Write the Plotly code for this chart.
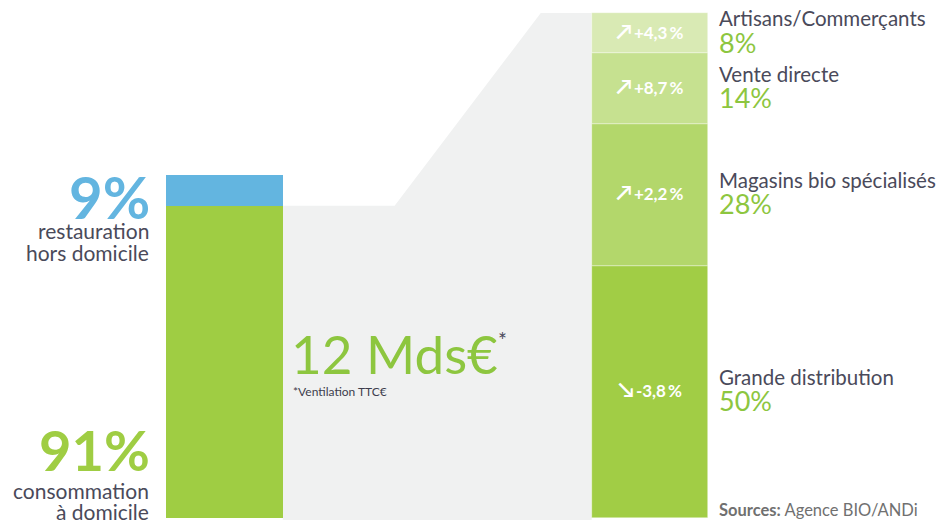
import numpy as np
import plotly.graph_objects as go

# ---------------- data ----------------
left_labels = ["consommation à domicile", "restauration hors domicile"]
left_values = [91, 9]
left_pct_text = ["91%", "9%"]

right_channels = ["Grande distribution", "Magasins bio spécialisés", "Vente directe", "Artisans/Commerçants"]
right_values = [50, 28, 14, 8]
right_pct_text = ["50%", "28%", "14%", "8%"]
right_growth = ["↘-3,8%", "↗+2,2%", "↗+8,7%", "↗+4,3%"]

total_label = "12 Mds€"
footnote = "*Ventilation TTC€"
source_label = "<b>Sources:</b> Agence BIO/ANDi"

# ---------------- style ----------------
# the page adds an 8px body margin, so the figure is 936x512 inside the 944x520 window
W, H = 936, 512
OFF = 8
FONT = "Lato"
DARK = "#4a4a5a"
GREEN_TXT = "#8dc63f"
left_colors = ["#9fcd43", "#63b5e0"]
right_colors = ["#a1cd45", "#b3d76b", "#c6e190", "#d9eab4"]
GREY = "#f0f1f1"

BAR_W = 0.274
x_range = [-0.5088, 1.6909]
y_range = [-0.396, 100.99]
y2_range = [-0.583, 148.69]


def py(screen_y):
    """paper y for a window pixel row"""
    return (H + OFF - screen_y) / H


def px(screen_x):
    return (screen_x - OFF) / W


fig = go.Figure()

# left bar (its own scale, y2)
left_base = np.concatenate([[0], np.cumsum(left_values)[:-1]])
for v, b, c, name in zip(left_values, left_base, left_colors, left_labels):
    fig.add_trace(go.Bar(x=[0], y=[v], base=[b], width=BAR_W, marker=dict(color=c, line=dict(width=0)),
                         yaxis="y2", name=name, showlegend=False, hoverinfo="name+y"))

# right bar
right_base = np.concatenate([[0], np.cumsum(right_values)[:-1]])
for v, b, c, name in zip(right_values, right_base, right_colors, right_channels):
    fig.add_trace(go.Bar(x=[1], y=[v], base=[b], width=BAR_W,
                         marker=dict(color=c, line=dict(width=0.6, color="rgba(255,255,255,0.6)")),
                         yaxis="y", name=name, showlegend=False, hoverinfo="name+y"))

# grey connector shape, derived from the bars' geometry
ymin, ymax = y_range
y2min, y2max = y2_range
split = left_values[0]
yh = ymin + (split - y2min) / (y2max - y2min) * (ymax - ymin)
gl, gr = BAR_W / 2, 1 - BAR_W / 2
x1 = gl + 0.362 * (gr - gl)
x2 = gl + 0.835 * (gr - gl)
ytop = float(np.sum(right_values))
path = (f"M {gl},{ymin} L {gl},{yh} L {x1},{yh} L {x2},{ytop} "
        f"L {gr},{ytop} L {gr},{ymin} Z")
fig.add_shape(type="path", path=path, xref="x", yref="y", fillcolor=GREY,
              line=dict(width=0), layer="below")

ann = []
# left labels
left_top = float(np.sum(left_values))
ann.append(dict(x=-BAR_W / 2, y=left_top, xref="x", yref="y2", xanchor="right", yanchor="middle",
                xshift=-14, yshift=-21, text=f"<b>{left_pct_text[1]}</b>", showarrow=False,
                font=dict(family=FONT, size=58, color=left_colors[1])))
ann.append(dict(x=-BAR_W / 2, y=left_top, xref="x", yref="y2", xanchor="right", yanchor="middle",
                xshift=-15, yshift=-55, text="restauration", showarrow=False,
                font=dict(family=FONT, size=21, color=DARK)))
ann.append(dict(x=-BAR_W / 2, y=left_top, xref="x", yref="y2", xanchor="right", yanchor="middle",
                xshift=-15, yshift=-77, text="hors domicile", showarrow=False,
                font=dict(family=FONT, size=21, color=DARK)))
ann.append(dict(x=-BAR_W / 2, y=0, xref="x", yref="y2", xanchor="right", yanchor="middle",
                xshift=-14, yshift=69, text=f"<b>{left_pct_text[0]}</b>", showarrow=False,
                font=dict(family=FONT, size=56, color=left_colors[0])))
ann.append(dict(x=-BAR_W / 2, y=0, xref="x", yref="y2", xanchor="right", yanchor="middle",
                xshift=-15, yshift=28, text="consommation", showarrow=False,
                font=dict(family=FONT, size=21, color=DARK)))
ann.append(dict(x=-BAR_W / 2, y=0, xref="x", yref="y2", xanchor="right", yanchor="middle",
                xshift=-15, yshift=7, text="à domicile", showarrow=False,
                font=dict(family=FONT, size=21, color=DARK)))

# total in the grey area
ann.append(dict(x=gl, y=py(353), xref="x", yref="paper", xanchor="left", yanchor="middle",
                xshift=6, text=total_label,
                showarrow=False, font=dict(family=FONT, size=53, color=GREEN_TXT)))
ann.append(dict(x=px(502), y=py(339), xref="paper", yref="paper", xanchor="center", yanchor="middle",
                text="*", showarrow=False, font=dict(family=FONT, size=21, color=DARK)))
ann.append(dict(x=gl, y=py(391), xref="x", yref="paper", xanchor="left", yanchor="middle",
                xshift=8, text=footnote, showarrow=False,
                font=dict(family=FONT, size=12, color="#3d3d4d")))

# right bar labels
mids = right_base + np.array(right_values) / 2
for m, name, pct, g in zip(mids, right_channels, right_pct_text, right_growth):
    arrow, rest = g[0], g[1:]
    label = (f"<b><span style='font-size:21px'>{arrow}</span>\u2009{rest[:-1]}\u2009{rest[-1]}</b>")
    ann.append(dict(x=1, y=m, xref="x", yref="y", xanchor="center", yanchor="middle",
                    yshift=3, text=label, showarrow=False,
                    font=dict(family=FONT, size=17, color="white")))
    ann.append(dict(x=1 + BAR_W / 2, y=m, xref="x", yref="y", xanchor="left", yanchor="middle",
                    xshift=9, yshift=15, text=name, showarrow=False,
                    font=dict(family=FONT, size=20.5, color=DARK)))
    ann.append(dict(x=1 + BAR_W / 2, y=m, xref="x", yref="y", xanchor="left", yanchor="middle",
                    xshift=9, yshift=-9, text=pct, showarrow=False,
                    font=dict(family=FONT, size=27, color=GREEN_TXT)))

ann.append(dict(x=1 + BAR_W / 2, y=py(510), xref="x", yref="paper", xanchor="left",
                yanchor="middle", xshift=9, text=source_label, showarrow=False,
                font=dict(family=FONT, size=16.5, color="#707070")))

fig.update_layout(
    width=W, height=H,
    margin=dict(l=0, r=0, t=0, b=0),
    paper_bgcolor="white", plot_bgcolor="white",
    barmode="overlay", bargap=0,
    xaxis=dict(range=x_range, visible=False, fixedrange=True),
    yaxis=dict(range=y_range, visible=False, fixedrange=True),
    yaxis2=dict(range=y2_range, visible=False, overlaying="y", fixedrange=True),
    annotations=ann,
    showlegend=False,
)

fig.write_html("out.html")
